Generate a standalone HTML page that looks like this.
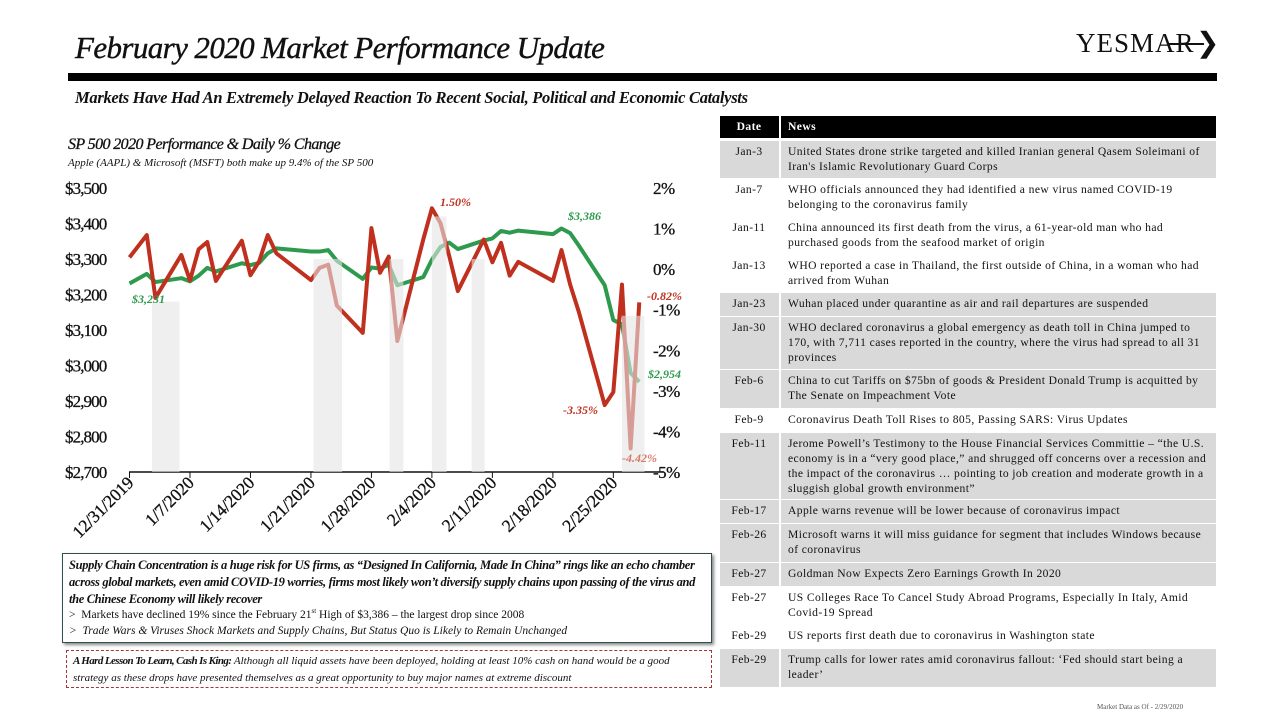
<!DOCTYPE html>
<html><head><meta charset="utf-8">
<style>
body{margin:0;width:1280px;height:720px;background:#fff;position:relative;overflow:hidden;font-family:"Liberation Serif",serif;color:#111}
.abs{position:absolute}
#tbl .r{position:absolute;left:720px;width:496px;font-size:11.6px;line-height:15px;letter-spacing:0.4px}
#tbl .d{position:absolute;left:0;width:58px;text-align:center;top:3px}
#tbl .n{position:absolute;left:68px;width:424px;top:3px}
#tbl .g{background:#d9d9d9}
#tbl .r::before{content:"";position:absolute;left:59px;top:0;bottom:0;width:2px;background:#fff}
</style></head><body>
<div class="abs" style="left:75px;top:30px;font-size:31px;font-style:italic;letter-spacing:-0.6px;-webkit-text-stroke:0.4px #111">February 2020 Market Performance Update</div>
<div class="abs" style="left:1076px;top:28px;font-size:27px;letter-spacing:1px">YESMAR<span style="position:absolute;left:92px;top:15px;width:36px;height:2px;background:#111"></span><span style="position:absolute;left:120px;top:-2px;font-size:28px">&#10095;</span></div>
<div class="abs" style="left:68px;top:73px;width:1149px;height:8px;background:#000"></div>
<div class="abs" style="left:75px;top:88px;font-size:16.5px;font-style:italic;font-weight:bold;letter-spacing:-0.3px">Markets Have Had An Extremely Delayed Reaction To Recent Social, Political and Economic Catalysts</div>
<div class="abs" style="left:68px;top:136px;font-size:16px;font-style:italic;letter-spacing:-0.6px;-webkit-text-stroke:0.3px #111">SP 500 2020 Performance &amp; Daily % Change</div>
<div class="abs" style="left:68px;top:157px;font-size:11px;font-style:italic">Apple (AAPL) &amp; Microsoft (MSFT) both make up 9.4% of the SP 500</div>

<svg class="abs" style="left:0;top:0" width="720" height="560" id="chart"></svg>

<div class="abs" style="left:62px;top:553px;width:650px;height:90px;border:1.5px solid #2f4f4f;box-shadow:2px 2px 3px #888;font-size:12px;padding:3px 6px;box-sizing:border-box">
<div style="font-weight:bold;font-style:italic;font-size:12.5px;letter-spacing:-0.35px;line-height:17px">Supply Chain Concentration is a huge risk for US firms, as “Designed In California, Made In China” rings like an echo chamber across global markets, even amid COVID-19 worries, firms most likely won’t diversify supply chains upon passing of the virus and the Chinese Economy will likely recover</div>
<div style="font-size:11.5px;line-height:15.5px">&gt;&nbsp; Markets have declined 19% since the February 21<sup style="font-size:7px;line-height:0">st</sup> High of $3,386 – the largest drop since 2008</div>
<div style="font-size:11.5px;font-style:italic;line-height:15.5px">&gt;&nbsp; Trade Wars &amp; Viruses Shock Markets and Supply Chains, But Status Quo is Likely to Remain Unchanged</div>
</div>
<div class="abs" style="left:66px;top:650px;width:646px;height:38px;border:1px dashed #a33;font-size:11px;line-height:17px;padding:2px 6px;box-sizing:border-box;font-style:italic;letter-spacing:0px"><b style="letter-spacing:-0.6px">A Hard Lesson To Learn, Cash Is King:</b> Although all liquid assets have been deployed, holding at least 10% cash on hand would be a good strategy as these drops have presented themselves as a great opportunity to buy major names at extreme discount</div>

<div id="tbl">
<div class="r" style="top:116px;height:22px;background:#000;color:#fff;font-weight:bold"><div class="d">Date</div><div class="n">News</div></div>
<div class="r g" style="top:141px;height:37px"><div class="d">Jan-3</div><div class="n">United States drone strike targeted and killed Iranian general Qasem Soleimani of Iran's Islamic Revolutionary Guard Corps</div></div>
<div class="r" style="top:179px;height:37px"><div class="d">Jan-7</div><div class="n">WHO officials announced they had identified a new virus named COVID-19 belonging to the coronavirus family</div></div>
<div class="r" style="top:217px;height:37px"><div class="d">Jan-11</div><div class="n">China announced its first death from the virus, a 61-year-old man who had purchased goods from the seafood market of origin</div></div>
<div class="r" style="top:255px;height:37px"><div class="d">Jan-13</div><div class="n">WHO reported a case in Thailand, the first outside of China, in a woman who had arrived from Wuhan</div></div>
<div class="r g" style="top:293px;height:23px"><div class="d">Jan-23</div><div class="n">Wuhan placed under quarantine as air and rail departures are suspended</div></div>
<div class="r g" style="top:317px;height:52px"><div class="d">Jan-30</div><div class="n">WHO declared coronavirus a global emergency as death toll in China jumped to 170, with 7,711 cases reported in the country, where the virus had spread to all 31 provinces</div></div>
<div class="r g" style="top:370px;height:38px"><div class="d">Feb-6</div><div class="n">China to cut Tariffs on $75bn of goods &amp; President Donald Trump is acquitted by The Senate on Impeachment Vote</div></div>
<div class="r" style="top:409px;height:23px"><div class="d">Feb-9</div><div class="n">Coronavirus Death Toll Rises to 805, Passing SARS: Virus Updates</div></div>
<div class="r g" style="top:433px;height:66px"><div class="d">Feb-11</div><div class="n">Jerome Powell’s Testimony to the House Financial Services Committie – “the U.S. economy is in a “very good place,” and shrugged off concerns over a recession and the impact of the coronavirus … pointing to job creation and moderate growth in a sluggish global growth environment”</div></div>
<div class="r g" style="top:500px;height:23px"><div class="d">Feb-17</div><div class="n">Apple warns revenue will be lower because of coronavirus impact</div></div>
<div class="r g" style="top:524px;height:38px"><div class="d">Feb-26</div><div class="n">Microsoft warns it will miss guidance for segment that includes Windows because of coronavirus</div></div>
<div class="r g" style="top:563px;height:23px"><div class="d">Feb-27</div><div class="n">Goldman Now Expects Zero Earnings Growth In 2020</div></div>
<div class="r" style="top:587px;height:37px"><div class="d">Feb-27</div><div class="n">US Colleges Race To Cancel Study Abroad Programs, Especially In Italy, Amid Covid-19 Spread</div></div>
<div class="r" style="top:625px;height:23px"><div class="d">Feb-29</div><div class="n">US reports first death due to coronavirus in Washington state</div></div>
<div class="r g" style="top:649px;height:38px"><div class="d">Feb-29</div><div class="n">Trump calls for lower rates amid coronavirus fallout: ‘Fed should start being a leader’</div></div>
</div>
<div class="abs" style="left:1097px;top:703px;font-size:7px;color:#555">Market Data as Of - 2/29/2020</div>

<script>
const days = [0,2,3,6,7,8,9,10,13,14,15,16,17,21,22,23,24,27,28,29,30,31,34,35,36,37,38,41,42,43,44,45,49,50,51,52,55,56,57,58,59];
const closes = [3231,3258,3235,3246,3237,3253,3275,3265,3288,3283,3289,3316,3330,3321,3321,3325,3295,3244,3276,3273,3284,3226,3249,3298,3334,3346,3328,3352,3358,3379,3374,3380,3370,3386,3373,3338,3226,3128,3116,2979,2954];
const pctChg = [0.29,0.84,-0.71,0.35,-0.28,0.49,0.67,-0.29,0.70,-0.15,0.19,0.84,0.39,-0.27,0.03,0.11,-0.90,-1.57,1.01,-0.09,0.31,-1.77,0.73,1.50,1.13,0.33,-0.54,0.73,0.17,0.65,-0.16,0.18,-0.29,0.47,-0.38,-1.05,-3.35,-3.03,-0.38,-4.42,-0.82];
const leftTicks = [3500,3400,3300,3200,3100,3000,2900,2800,2700];
const rightTicks = [2,1,0,-1,-2,-3,-4,-5];
const dateTicks = ["12/31/2019","1/7/2020","1/14/2020","1/21/2020","1/28/2020","2/4/2020","2/11/2020","2/18/2020","2/25/2020"];
const shadeStart = [2.6,21.3,30.1,35,39.6,57];
const shadeEnd = [5.8,24.6,31.7,36.7,41.1,59.6];
const shadeTopPct = [-0.8,0.25,0.25,1.3,0.25,-1.15];

const svg = document.getElementById('chart');
const NS = 'http://www.w3.org/2000/svg';
const X = d => 129.5 + d*8.64;
const YL = v => 472 - (v-2700)*0.355;
const YR = p => 472 - (p+5)*40.57;
function mk(tag, attrs, parent){const e=document.createElementNS(NS,tag);for(const k in attrs)e.setAttribute(k,attrs[k]);(parent||svg).appendChild(e);return e;}

const f = 'font-family:"Liberation Serif",serif';
leftTicks.forEach(v=>{
  const t=mk('text',{x:65,y:YL(v)+6,style:f+';font-size:17px;letter-spacing:-0.9px;stroke:#111;stroke-width:0.3',fill:'#111'});
  
  
  t.textContent='$'+v.toLocaleString('en-US');
});
rightTicks.forEach(p=>{
  const t=mk('text',{x:653,y:YR(p)+6,style:f+';font-size:17px;letter-spacing:-0.5px;stroke:#111;stroke-width:0.3',fill:'#111'});
  
  
  t.textContent=(p<0?'-':'')+Math.abs(p)+'%';
});
const ax=mk('line',{x1:129,y1:472,x2:664,y2:472,stroke:'#111','stroke-width':1.5});


dateTicks.forEach((lab,i)=>{
  const x=X(i*7);
  mk('line',{x1:x,y1:472,x2:x,y2:478,stroke:'#111','stroke-width':1});
  const t=mk('text',{x:x+5,y:484,style:f+';font-size:17.5px;letter-spacing:-0.2px;stroke:#111;stroke-width:0.3','text-anchor':'end',transform:`rotate(-45 ${x+5} 484)`,fill:'#111'});
  
  
  t.textContent=lab;
});
const gp=mk('polyline',{points:days.map((d,i)=>X(d)+','+YL(closes[i])).join(' '),fill:'none',stroke:'#2e9a4e','stroke-width':4,'stroke-linejoin':'round'});


const rp=mk('polyline',{points:days.map((d,i)=>X(d)+','+YR(pctChg[i])).join(' '),fill:'none',stroke:'#c0301e','stroke-width':4,'stroke-linejoin':'round'});


shadeStart.forEach((s,i)=>{
  const r=mk('rect',{x:X(s),y:YR(shadeTopPct[i]),width:X(shadeEnd[i])-X(s),height:472-YR(shadeTopPct[i]),fill:'#e4e4e4','fill-opacity':0.6});
  
  
});
function lab(txt,x,y,col,name){const t=mk('text',{x:x,y:y,style:f+';font-size:12px;font-style:italic;font-weight:bold',fill:col});t.textContent=txt;}
lab('$3,231',132,303,'#2e9a4e','start-price-label');
lab('$3,386',568,220,'#2e9a4e','peak-price-label');
lab('$2,954',648,378,'#2e9a4e','end-price-label');
lab('1.50%',440,206,'#c0301e','max-change-label');
lab('-0.82%',647,300,'#c0301e','last-change-label');
lab('-3.35%',563,414,'#c0301e','drop-label');
lab('-4.42%',622,462,'#d87a6a','min-change-label');
</script>
</body></html>
